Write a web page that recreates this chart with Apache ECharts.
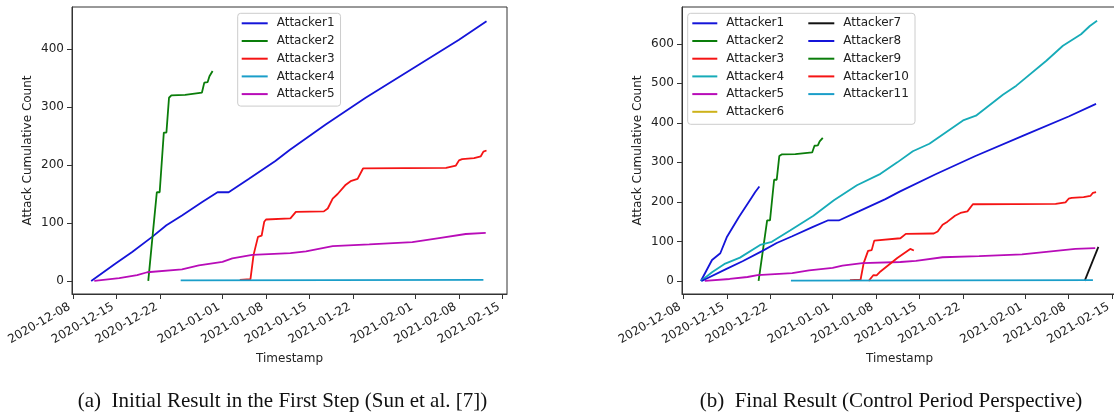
<!DOCTYPE html>
<html><head><meta charset="utf-8">
<script src="https://cdn.jsdelivr.net/npm/echarts@6/dist/echarts.min.js"></script>
<style>html,body{margin:0;padding:0;background:#fff}#c{width:1114px;height:416px}</style>
</head><body><div id="c"></div>
<script>
// ---- tick labels ----
const xTicks = ['2020-12-08','2020-12-15','2020-12-22','2021-01-01','2021-01-08','2021-01-15','2021-01-22','2021-02-01','2021-02-08','2021-02-15'];
const yTicksA = [0, 100, 200, 300, 400];
const yTicksB = [0, 100, 200, 300, 400, 500, 600];

// ---- series values: [timestamp, cumulative count] ----
const longBlue = [['2020-12-10 22:00',0],['2020-12-14 20:00',30],['2020-12-17 12:00',50],['2020-12-20 17:00',76],['2020-12-23 00:00',96],['2020-12-25 12:00',113],['2020-12-28 18:00',136],['2020-12-31 05:00',153],['2021-01-02 00:00',153],['2021-01-05 05:00',176],['2021-01-09 12:00',207],['2021-01-11 19:00',226],['2021-01-17 14:00',270],['2021-01-24 00:00',316],['2021-02-01 02:00',370],['2021-02-08 00:00',416],['2021-02-12 10:00',448]];
const green = [['2020-12-20 02:00',0],['2020-12-20 17:00',70],['2020-12-21 11:00',153],['2020-12-21 22:00',153],['2020-12-22 14:00',256],['2020-12-23 00:00',256],['2020-12-23 10:00',316],['2020-12-23 19:00',320],['2020-12-26 00:00',321],['2020-12-26 05:00',324],['2020-12-28 17:00',325],['2020-12-29 02:00',342],['2020-12-29 15:00',343],['2020-12-29 22:00',353],['2020-12-30 04:00',355],['2020-12-30 10:00',362]];
const redStep = [['2021-01-03 19:00',2],['2021-01-05 12:00',3],['2021-01-06 00:00',45],['2021-01-06 05:00',48],['2021-01-06 17:00',76],['2021-01-07 07:00',78],['2021-01-07 17:00',102],['2021-01-08 00:00',106],['2021-01-11 22:00',108],['2021-01-12 19:00',119],['2021-01-17 07:00',120],['2021-01-17 22:00',125],['2021-01-18 17:00',142],['2021-01-19 12:00',150],['2021-01-20 17:00',165],['2021-01-21 14:00',172],['2021-01-22 17:00',176],['2021-01-23 14:00',194],['2021-02-05 22:00',195],['2021-02-06 02:00',198],['2021-02-07 12:00',199],['2021-02-08 00:00',208],['2021-02-08 12:00',210],['2021-02-10 10:00',212],['2021-02-11 12:00',215],['2021-02-11 22:00',223],['2021-02-12 10:00',225]];
const cyanFlat = [['2020-12-25 07:00',1],['2021-02-11 22:00',2]];
const magenta = [['2020-12-11 10:00',0],['2020-12-15 10:00',5],['2020-12-18 07:00',10],['2020-12-19 22:00',15],['2020-12-25 12:00',20],['2020-12-28 05:00',27],['2021-01-01 00:00',33],['2021-01-02 14:00',39],['2021-01-05 19:00',45],['2021-01-11 22:00',48],['2021-01-14 10:00',51],['2021-01-18 17:00',60],['2021-01-24 14:00',63],['2021-01-31 12:00',67],['2021-02-04 19:00',74],['2021-02-09 02:00',81],['2021-02-12 07:00',83]];
const shortBlue = [['2020-12-10 19:00',0],['2020-12-12 14:00',53],['2020-12-13 22:00',70],['2020-12-15 00:00',112],['2020-12-16 22:00',162],['2020-12-19 00:00',212],['2020-12-19 13:00',225],['2020-12-20 05:00',239]];
const tealRise = [['2020-12-10 19:00',0],['2020-12-12 14:00',22],['2020-12-14 17:00',44],['2020-12-17 02:00',59],['2020-12-20 08:00',91],['2020-12-22 05:00',99],['2020-12-25 05:00',128],['2020-12-28 22:00',165],['2021-01-01 05:00',204],['2021-01-04 22:00',242],['2021-01-08 17:00',271],['2021-01-11 10:00',300],['2021-01-13 22:00',328],['2021-01-16 14:00',347],['2021-01-22 00:00',406],['2021-01-24 02:00',418],['2021-01-28 10:00',471],['2021-01-30 14:00',494],['2021-02-04 10:00',557],['2021-02-07 02:00',595],['2021-02-10 00:00',624],['2021-02-11 10:00',645],['2021-02-12 14:00',658]];
const redShort = [['2021-01-06 19:00',0],['2021-01-07 14:00',15],['2021-01-08 02:00',14],['2021-01-08 17:00',24],['2021-01-11 10:00',58],['2021-01-13 12:00',81],['2021-01-14 02:00',77]];
const black = [['2021-02-10 14:00',0],['2021-02-12 19:00',86]];
const yellow = [];
const green9 = [];

// ---- styling ----
const C = {blue:'#1414d9', green:'#0a7d0a', red:'#f51414', cyanFlat:'#1a9ec9', teal:'#16abb8', magenta:'#b80cb8', yellow:'#cdb21a', black:'#111111'};
const FONT = 'DejaVu Sans';
const pad = n => (n < 10 ? '0' : '') + n;
// date string -> epoch ms (local time)
const T = s => { const p = s.split(' '); const d = p[0].split('-').map(Number); const h = (p[1] || '00:00').split(':').map(Number); return new Date(d[0], d[1] - 1, d[2], h[0], h[1]).getTime(); };
const fmtDate = v => { const d = new Date(v); return d.getFullYear() + '-' + pad(d.getMonth() + 1) + '-' + pad(d.getDate()); };
const toXY = arr => arr.map(p => [T(p[0]), p[1]]);
const xTickVals = xTicks.map(s => T(s));

function xAxis(grid, min, max) {
  return {
    type: 'value', gridIndex: grid, min: T(min), max: T(max), scale: true,
    name: 'Timestamp', nameLocation: 'middle', nameGap: 55,
    nameTextStyle: {fontSize: 12, fontFamily: FONT, color: '#222'},
    axisLine: {show: true, onZero: false, lineStyle: {color: '#333', width: 1}},
    axisTick: {show: true, length: 5, inside: false, lineStyle: {color: '#333'}, customValues: xTickVals},
    axisLabel: {show: true, rotate: 30, margin: 10, fontSize: 12, fontFamily: FONT, color: '#222', customValues: xTickVals, formatter: fmtDate, padding: [0, 4, 0, 0], hideOverlap: false, showMinLabel: true, showMaxLabel: true},
    splitLine: {show: false}, minorTick: {show: false}
  };
}
function yAxis(grid, min, max, ticks) {
  return {
    type: 'value', gridIndex: grid, min: min, max: max,
    name: 'Attack Cumulative Count', nameLocation: 'middle', nameGap: 38,
    nameTextStyle: {fontSize: 12, fontFamily: FONT, color: '#222'},
    axisLine: {show: true, onZero: false, lineStyle: {color: '#333', width: 1}},
    axisTick: {show: true, length: 5, lineStyle: {color: '#333'}, customValues: ticks},
    axisLabel: {show: true, margin: 8, fontSize: 12, fontFamily: FONT, color: '#222', customValues: ticks},
    splitLine: {show: false}
  };
}
function line(name, data, color, g) {
  return {type: 'line', name: name, data: toXY(data), xAxisIndex: g, yAxisIndex: g, symbol: 'none', showSymbol: false,
    lineStyle: {color: color, width: 1.8}, itemStyle: {color: color}, silent: true, animation: false, z: 2};
}
const legText = {fontSize: 12, fontFamily: FONT, color: '#222', padding: [0, 0, 0, 4], lineHeight: 14};
const legItem = (n, c) => ({name: n, icon: 'rect', itemStyle: {color: c, borderWidth: 0}});
const legBase = {orient: 'vertical', icon: 'rect', itemHeight: 2, itemGap: 3.7, selectedMode: false, textStyle: legText};

const chart = echarts.init(document.getElementById('c'), null, {renderer: 'canvas'});
chart.setOption({
  animation: false,
  backgroundColor: '#fff',
  grid: [
    {left: 72, top: 7, width: 435, height: 287, show: true, borderColor: '#333', borderWidth: 1, backgroundColor: 'transparent', outerBoundsMode: 'none', containLabel: false},
    {left: 682, top: 7, width: 435, height: 287, show: true, borderColor: '#333', borderWidth: 1, backgroundColor: 'transparent', outerBoundsMode: 'none', containLabel: false}
  ],
  xAxis: [xAxis(0, '2020-12-07 20:00', '2021-02-15 17:00'), xAxis(1, '2020-12-07 18:00', '2021-02-15 19:00')],
  yAxis: [yAxis(0, -22.5, 472.5, yTicksA), yAxis(1, -33, 693, yTicksB)],
  legend: [
    Object.assign({}, legBase, {left: 237.7, top: 13.3, itemWidth: 26, padding: [3, 6, 5, 4],
     backgroundColor: 'rgba(255,255,255,0.85)', borderColor: '#cccccc', borderWidth: 1, borderRadius: 3,
     data: [legItem('Attacker1', C.blue), legItem('Attacker2', C.green), legItem('Attacker3', C.red), legItem('Attacker4', C.cyanFlat), legItem('Attacker5', C.magenta)]}),
    Object.assign({}, legBase, {left: 692.3, top: 16.3, itemWidth: 25, padding: 0,
     data: [legItem('Attacker1', C.blue), legItem('Attacker2', C.green), legItem('Attacker3', C.red), legItem('Attacker4', C.teal), legItem('Attacker5', C.magenta), legItem('Attacker6', C.yellow)]}),
    Object.assign({}, legBase, {left: 808.3, top: 16.3, itemWidth: 26, padding: 0,
     data: [legItem('Attacker7', C.black), legItem('Attacker8', C.blue), legItem('Attacker9', C.green), legItem('Attacker10', C.red), legItem('Attacker11', C.cyanFlat)]})
  ],
  graphic: [
    {type: 'rect', z: 3, silent: true, shape: {x: 687.7, y: 13.3, width: 227.3, height: 111, r: 3}, style: {fill: 'rgba(255,255,255,0.85)', stroke: '#cccccc', lineWidth: 1}},
    {type: 'text', z: 10, silent: true, x: 282.5, y: 401, style: {text: '(a)  Initial Result in the First Step (Sun et al. [7])', font: '21px "Liberation Serif"', fill: '#111', textAlign: 'center', textVerticalAlign: 'middle'}},
    {type: 'text', z: 10, silent: true, x: 891, y: 401, style: {text: '(b)  Final Result (Control Period Perspective)', font: '21px "Liberation Serif"', fill: '#111', textAlign: 'center', textVerticalAlign: 'middle'}}
  ],
  series: [
    line('Attacker1', longBlue, C.blue, 0),
    line('Attacker2', green, C.green, 0),
    line('Attacker3', redStep, C.red, 0),
    line('Attacker4', cyanFlat, C.cyanFlat, 0),
    line('Attacker5', magenta, C.magenta, 0),
    line('Attacker1', shortBlue, C.blue, 1),
    line('Attacker2', green, C.green, 1),
    line('Attacker3', redStep, C.red, 1),
    line('Attacker4', tealRise, C.teal, 1),
    line('Attacker5', magenta, C.magenta, 1),
    line('Attacker6', yellow, C.yellow, 1),
    line('Attacker7', black, C.black, 1),
    line('Attacker8', longBlue, C.blue, 1),
    line('Attacker9', green9, C.green, 1),
    line('Attacker10', redShort, C.red, 1),
    line('Attacker11', cyanFlat, C.cyanFlat, 1)
  ]
});
</script></body></html>
